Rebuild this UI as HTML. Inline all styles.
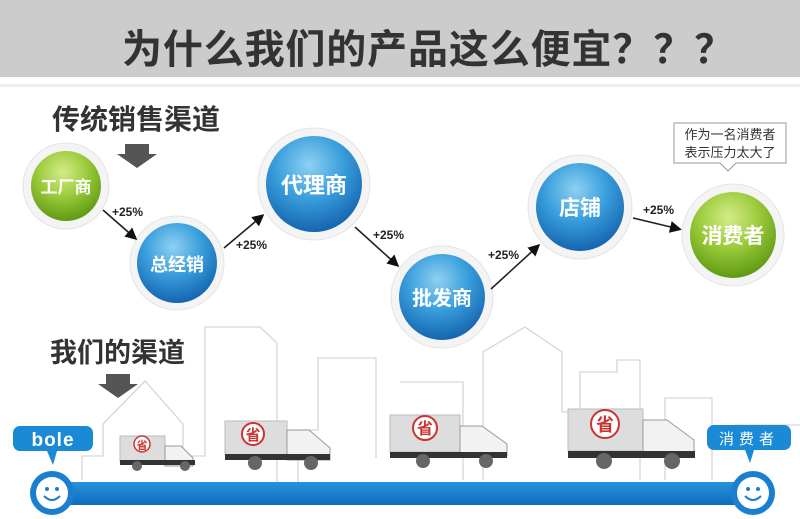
<!DOCTYPE html>
<html><head><meta charset="utf-8"><style>
body{margin:0;width:800px;height:519px;overflow:hidden;background:#fff;}
svg{display:block}
text{font-family:"Liberation Sans","Noto Sans CJK SC",sans-serif;}
</style></head><body>
<svg width="800" height="519" viewBox="0 0 800 519" xmlns="http://www.w3.org/2000/svg">
<defs>
<radialGradient id="bl" cx="45%" cy="30%" r="70%">
<stop offset="0" stop-color="#8fd0f2"/><stop offset="0.5" stop-color="#3a9fdc"/><stop offset="1" stop-color="#1565b0"/></radialGradient>
<radialGradient id="gr" cx="45%" cy="30%" r="70%">
<stop offset="0" stop-color="#d4ec8a"/><stop offset="0.5" stop-color="#9ccb3c"/><stop offset="1" stop-color="#5f9a12"/></radialGradient>
<linearGradient id="bar" x1="0" y1="0" x2="0" y2="1"><stop offset="0" stop-color="#2a92dc"/><stop offset="1" stop-color="#0d6cbb"/></linearGradient>
<marker id="ah" markerWidth="12" markerHeight="12" refX="9" refY="6" orient="auto" markerUnits="userSpaceOnUse"><path d="M0,0 L12,6 L0,12 Z" fill="#111"/></marker>
</defs>
<rect x="0" y="0" width="800" height="77" fill="#cccccc"/>
<rect x="0" y="84" width="800" height="3" fill="#eee"/>
<text x="122" y="63" font-size="40" font-weight="bold" fill="#333" textLength="612" lengthAdjust="spacing">为什么我们的产品这么便宜？？？</text>

<text x="52" y="129" font-size="28" font-weight="bold" fill="#333">传统销售渠道</text>
<path d="M125,144 h24 v10 h8 l-20,14 l-20,-14 h8z" fill="#555"/>
<text x="50" y="362" font-size="27" font-weight="bold" fill="#333">我们的渠道</text>
<path d="M106,374 h24 v10 h8 l-20,14 l-20,-14 h8z" fill="#555"/>

<g fill="none" stroke="#d6d6d6" stroke-width="1.3">
<polyline points="82,480 82,456 103,456 103,424 145,381 183,424 183,456 205,456 205,327 260,327 277,343 277,482"/>
<polyline points="298,482 298,430 318,430 318,358 376,358 376,458"/>
<polyline points="400,382 463,382 463,480"/>
<polyline points="483,480 483,352 525,327 562,352 562,412 580,412 580,372 617,372 617,360 640,360 640,480"/>
<polyline points="665,480 665,398 712,398 712,480"/>
<polyline points="735,425 800,425"/>
</g>

<g>
<circle cx="66" cy="186" r="43" fill="#f4f4f4" stroke="#e4e4e4"/><circle cx="66" cy="186" r="35" fill="url(#gr)"/>
<text x="66" y="193" font-size="17" font-weight="bold" fill="#fff" text-anchor="middle">工厂商</text>
<circle cx="177" cy="263" r="47" fill="#f4f4f4" stroke="#e4e4e4"/><circle cx="177" cy="263" r="40" fill="url(#bl)"/>
<text x="177" y="271" font-size="18" font-weight="bold" fill="#fff" text-anchor="middle">总经销</text>
<circle cx="314" cy="184" r="56" fill="#f4f4f4" stroke="#e4e4e4"/><circle cx="314" cy="184" r="48" fill="url(#bl)"/>
<text x="314" y="193" font-size="22" font-weight="bold" fill="#fff" text-anchor="middle">代理商</text>
<circle cx="442" cy="297" r="51" fill="#f4f4f4" stroke="#e4e4e4"/><circle cx="442" cy="297" r="43" fill="url(#bl)"/>
<text x="442" y="305" font-size="20" font-weight="bold" fill="#fff" text-anchor="middle">批发商</text>
<circle cx="580" cy="207" r="52" fill="#f4f4f4" stroke="#e4e4e4"/><circle cx="580" cy="207" r="44" fill="url(#bl)"/>
<text x="580" y="215" font-size="21" font-weight="bold" fill="#fff" text-anchor="middle">店铺</text>
<circle cx="733" cy="235" r="51" fill="#f4f4f4" stroke="#e4e4e4"/><circle cx="733" cy="235" r="43" fill="url(#gr)"/>
<text x="733" y="243" font-size="21" font-weight="bold" fill="#fff" text-anchor="middle">消费者</text>
</g>

<g stroke="#222" stroke-width="1.6" marker-end="url(#ah)">
<line x1="103" y1="210" x2="135" y2="238"/>
<line x1="224" y1="248" x2="262" y2="216"/>
<line x1="355" y1="227" x2="397" y2="265"/>
<line x1="491" y1="289" x2="538" y2="246"/>
<line x1="633" y1="218" x2="679" y2="229"/>
</g>
<g font-size="12" font-weight="bold" fill="#222">
<text x="112" y="216">+25%</text><text x="236" y="249">+25%</text><text x="373" y="239">+25%</text>
<text x="488" y="259">+25%</text><text x="643" y="214">+25%</text>
</g>

<path d="M674,123 h112 v40 h-50 l-8,8 l-8,-8 h-46 z" fill="#fff" stroke="#999"/>
<text x="730" y="139" font-size="13" fill="#333" text-anchor="middle">作为一名消费者</text>
<text x="730" y="157" font-size="13" fill="#333" text-anchor="middle">表示压力太大了</text>

<g>
<rect x="120" y="436" width="45" height="26" fill="#ddd" stroke="#bbb"/>
<path d="M165,446 h16 l12,12 v8 h-28z" fill="#f2f2f2" stroke="#999"/>
<rect x="120" y="460" width="75" height="5" fill="#333"/>
<circle cx="137" cy="466" r="5" fill="#666"/><circle cx="185" cy="466" r="5" fill="#666"/>
<circle cx="142" cy="444" r="8" fill="#fff" stroke="#c33" stroke-width="1.5"/>
<text x="142" y="449" font-size="11" font-weight="bold" fill="#c33" text-anchor="middle">省</text>

<rect x="225" y="421" width="62" height="34" fill="#ddd" stroke="#bbb"/>
<path d="M287,430 h22 l21,18 v12 h-43z" fill="#f2f2f2" stroke="#999"/>
<rect x="225" y="454" width="105" height="6" fill="#333"/>
<circle cx="255" cy="463" r="7" fill="#666"/><circle cx="311" cy="463" r="7" fill="#666"/>
<circle cx="253" cy="434" r="11" fill="#fff" stroke="#c33" stroke-width="2"/>
<text x="253" y="440" font-size="15" font-weight="bold" fill="#c33" text-anchor="middle">省</text>

<rect x="390" y="415" width="70" height="37" fill="#ddd" stroke="#bbb"/>
<path d="M460,426 h22 l25,18 v12 h-47z" fill="#f2f2f2" stroke="#999"/>
<rect x="390" y="452" width="117" height="6" fill="#333"/>
<circle cx="423" cy="461" r="7" fill="#666"/><circle cx="486" cy="461" r="7" fill="#666"/>
<circle cx="425" cy="428" r="12" fill="#fff" stroke="#c33" stroke-width="2"/>
<text x="425" y="434" font-size="16" font-weight="bold" fill="#c33" text-anchor="middle">省</text>

<rect x="568" y="409" width="75" height="42" fill="#ddd" stroke="#bbb"/>
<path d="M643,420 h24 l27,20 v13 h-51z" fill="#f2f2f2" stroke="#999"/>
<rect x="568" y="451" width="127" height="7" fill="#333"/>
<circle cx="604" cy="461" r="8" fill="#666"/><circle cx="672" cy="461" r="8" fill="#666"/>
<circle cx="605" cy="424" r="14" fill="#fff" stroke="#c33" stroke-width="2"/>
<text x="605" y="431" font-size="18" font-weight="bold" fill="#c33" text-anchor="middle">省</text>
</g>

<rect x="50" y="482" width="700" height="23" fill="url(#bar)"/>
<circle cx="52" cy="493" r="22" fill="#1a7fcf"/><circle cx="52" cy="493" r="16" fill="#fff"/>
<circle cx="47" cy="489" r="2" fill="#1a7fcf"/><circle cx="57" cy="489" r="2" fill="#1a7fcf"/>
<path d="M44,496 q8,8 16,0" fill="none" stroke="#1a7fcf" stroke-width="2"/>
<circle cx="753" cy="493" r="22" fill="#1a7fcf"/><circle cx="753" cy="493" r="16" fill="#fff"/>
<circle cx="748" cy="489" r="2" fill="#1a7fcf"/><circle cx="758" cy="489" r="2" fill="#1a7fcf"/>
<path d="M745,496 q8,8 16,0" fill="none" stroke="#1a7fcf" stroke-width="2"/>

<path d="M20,426 h66 a7,7 0 0 1 7,7 v11 a7,7 0 0 1 -7,7 h-29 l-4,14 l-6,-14 h-27 a7,7 0 0 1 -7,-7 v-11 a7,7 0 0 1 7,-7z" fill="#1a8ad6"/>
<text x="53" y="446" font-size="19" font-weight="bold" fill="#fff" text-anchor="middle" letter-spacing="1">bole</text>
<path d="M714,425 h70 a7,7 0 0 1 7,7 v11 a7,7 0 0 1 -7,7 h-30 l-4,13 l-5,-13 h-31 a7,7 0 0 1 -7,-7 v-11 a7,7 0 0 1 7,-7z" fill="#1a8ad6"/>
<text x="749" y="444" font-size="15" fill="#fff" text-anchor="middle" letter-spacing="5">消费者</text>
</svg>
</body></html>
